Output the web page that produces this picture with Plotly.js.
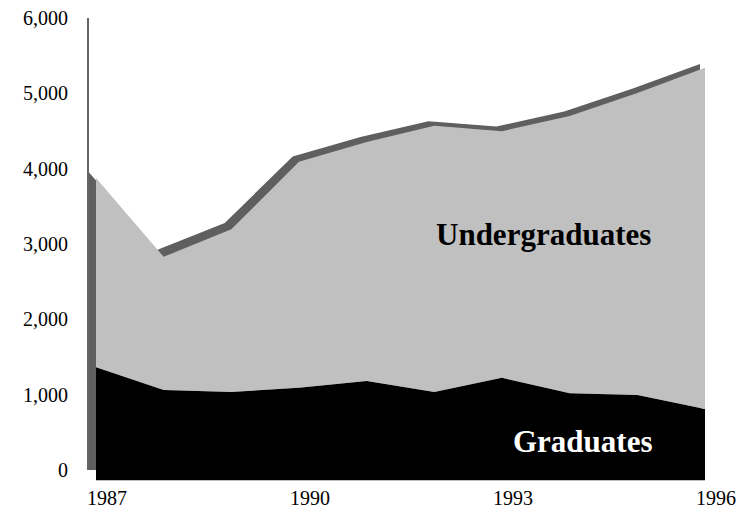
<!DOCTYPE html>
<html>
<head>
<meta charset="utf-8">
<script src="https://cdn.plot.ly/plotly-3.0.1.min.js"></script>
<style>html,body{margin:0;padding:0;background:#fff;}#chart{width:743px;height:514px;}</style>
</head>
<body>
<div id="chart"></div>
<script>
// ---- data ----
var years = [1987, 1988, 1989, 1990, 1991, 1992, 1993, 1994, 1995, 1996];
var graduates = [1480, 1180, 1155, 1210, 1300, 1155, 1340, 1140, 1115, 935];
var undergraduates = [2470, 1740, 2125, 2950, 3120, 3475, 3220, 3620, 3945, 4455];
var xTickVals = [1987, 1990, 1993, 1996];
var xTickText = ['1987', '1990', '1993', '1996'];
var yTickVals = [0, 1000, 2000, 3000, 4000, 5000, 6000];
var yTickText = ['0', '1,000', '2,000', '3,000', '4,000', '5,000', '6,000'];

var totals = years.map(function (_, i) { return graduates[i] + undergraduates[i]; });

var W = 743, H = 514;
function fx(px) { return px / W; }
function fy(px) { return 1 - px / H; }

var font = 'Liberation Serif, Times New Roman, serif';

var traces = [
  // back plane (depth copy) - gives the 3D side/top surface look
  { x: years, y: totals, xaxis: 'x', yaxis: 'y', type: 'scatter', mode: 'lines',
    fill: 'tozeroy', fillcolor: '#5f5f5f', line: { width: 0, color: '#5f5f5f' },
    hoverinfo: 'skip', showlegend: false },
  // front face
  { x: years, y: graduates, xaxis: 'x2', yaxis: 'y2', type: 'scatter', mode: 'lines',
    stackgroup: 'front', fillcolor: '#000000', line: { width: 0, color: '#000000' },
    name: 'Graduates', showlegend: false },
  { x: years, y: undergraduates, xaxis: 'x2', yaxis: 'y2', type: 'scatter', mode: 'lines',
    stackgroup: 'front', fillcolor: '#c0c0c0', line: { width: 0, color: '#c0c0c0' },
    name: 'Undergraduates', showlegend: false }
];

var layout = {
  width: W, height: H,
  margin: { l: 0, r: 0, t: 0, b: 0, pad: 0 },
  paper_bgcolor: '#ffffff',
  plot_bgcolor: 'rgba(0,0,0,0)',
  showlegend: false,
  font: { family: font, color: '#000000', size: 20 },
  // back plane axes
  xaxis: { domain: [fx(89), fx(700)], range: [1987, 1996], visible: true,
    showgrid: false, zeroline: false, showline: false, showticklabels: false, ticks: '',
    anchor: 'y', fixedrange: true },
  yaxis: { domain: [fy(470), fy(18)], range: [0, 6000], anchor: 'x',
    showgrid: false, zeroline: false, showline: true, linecolor: '#666666', linewidth: 2,
    ticks: '', tickvals: yTickVals, ticktext: yTickText, ticklabelstandoff: 15,
    tickfont: { family: font, size: 20, color: '#000000' }, fixedrange: true },
  // front face axes
  xaxis2: { domain: [fx(96), fx(705)], range: [1987, 1996], anchor: 'y2',
    showgrid: false, zeroline: false, showline: false, ticks: '',
    tickvals: xTickVals, ticktext: xTickText, ticklabelshift: 11, ticklabelstandoff: 3,
    tickfont: { family: font, size: 20, color: '#000000' }, fixedrange: true },
  yaxis2: { domain: [fy(480.5), fy(20.9)], range: [0, 6000], anchor: 'x2',
    visible: false, showgrid: false, zeroline: false, fixedrange: true },
  annotations: [
    { text: '<b>Undergraduates</b>', xref: 'paper', yref: 'paper', x: fx(543), y: fy(235),
      xanchor: 'center', yanchor: 'middle', showarrow: false,
      font: { family: font, size: 31, color: '#000000' } },
    { text: '<b>Graduates</b>', xref: 'paper', yref: 'paper', x: fx(583), y: fy(441),
      xanchor: 'center', yanchor: 'middle', showarrow: false,
      font: { family: font, size: 31, color: '#ffffff' } }
  ]
};

Plotly.newPlot('chart', traces, layout, { displayModeBar: false, staticPlot: true });
</script>
</body>
</html>
